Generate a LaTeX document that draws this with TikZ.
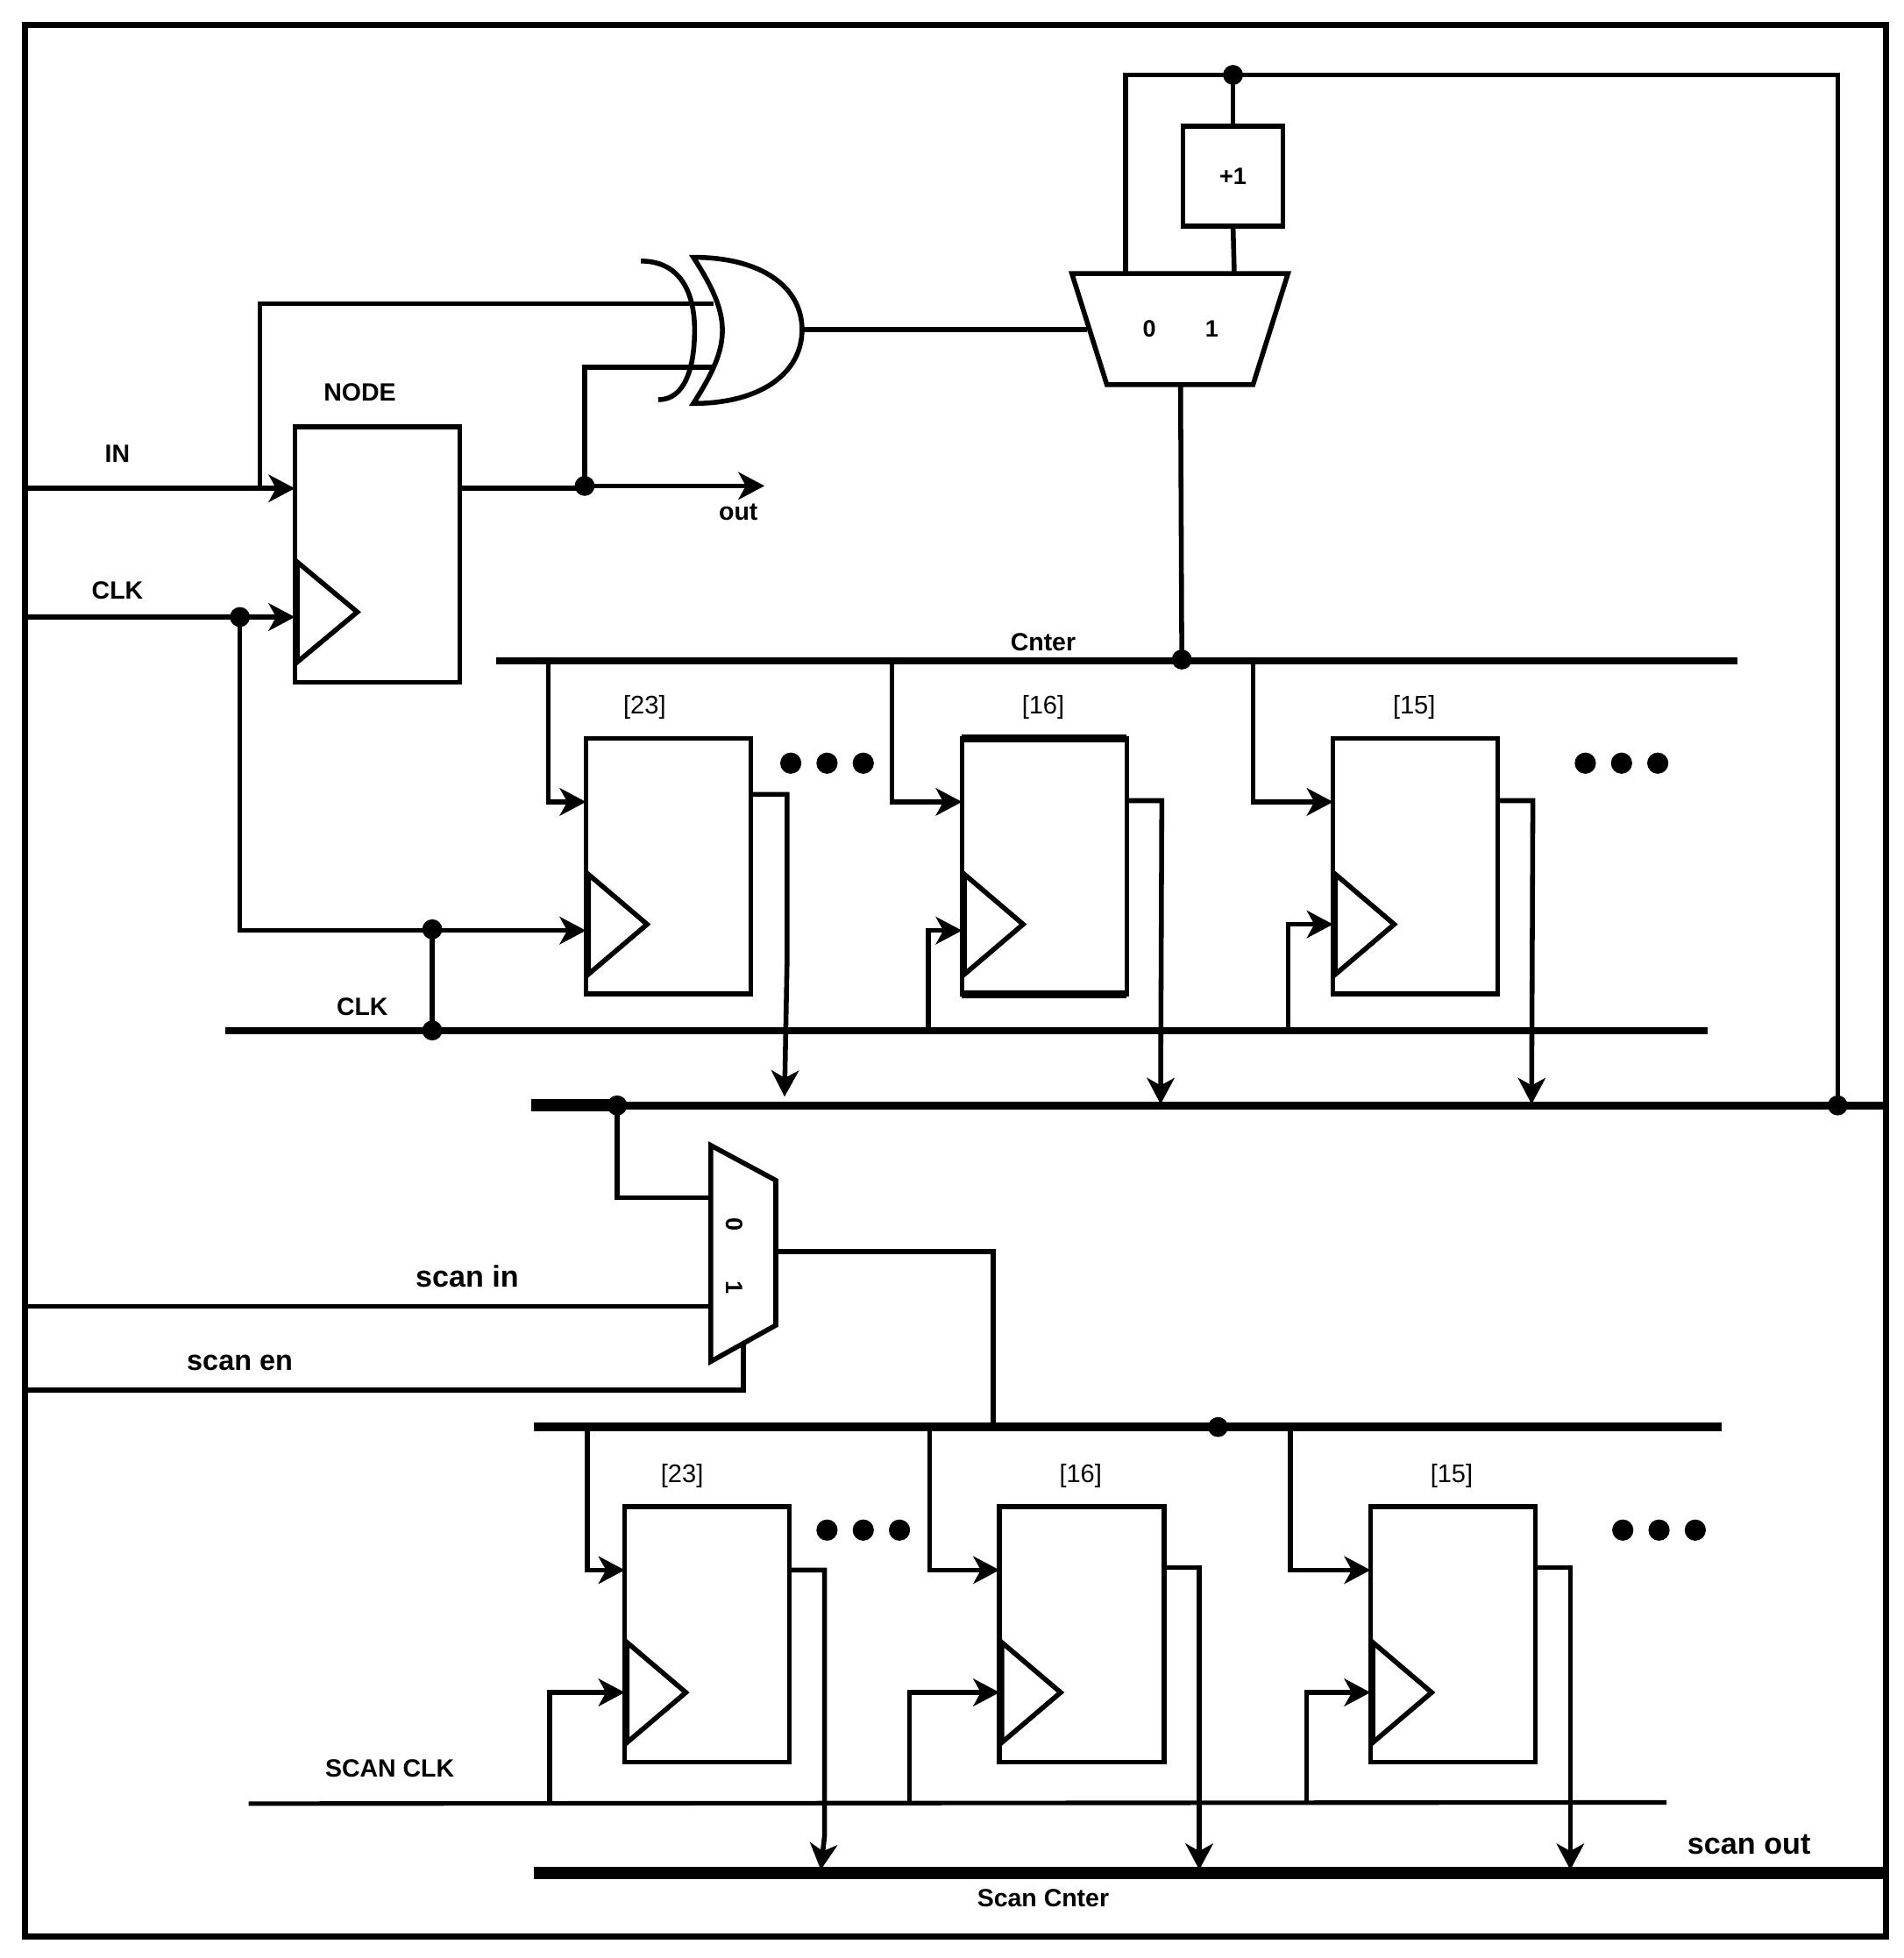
\documentclass[tikz,border=0pt]{standalone}
\usepackage{fontspec}
\setmainfont{Liberation Sans}
\usetikzlibrary{arrows.meta}
\tikzset{
  wire/.style={line width=1.95pt,line join=miter},
  arrowwire/.style={wire,-{Stealth[length=10.5pt,width=11pt,inset=3pt]}},
  bus/.style={line width=2.9pt},
  fatbus/.style={line width=4.7pt},
  thinbus/.style={line width=1.8pt},
  ffbox/.style={draw,line width=1.95pt,rectangle,minimum width=66pt,minimum height=102.5pt,inner sep=0,outer sep=0},
  incbox/.style={draw,line width=1.95pt,rectangle,minimum width=40pt,minimum height=40pt,inner sep=0,outer sep=0,font=\bfseries\fontsize{9.5}{9.5}\selectfont},
  jdot/.style={circle,fill=black,inner sep=0,outer sep=0,minimum size=8pt},
  bigdot/.style={circle,fill=black,inner sep=0,outer sep=0,minimum size=8.5pt},
  lab/.style={inner sep=0,font=\bfseries\fontsize{10}{10}\selectfont},
  idx/.style={inner sep=0,font=\fontsize{10.2}{10.2}\selectfont},
  biglab/.style={inner sep=0,font=\bfseries\fontsize{12}{12}\selectfont},
  midlab/.style={inner sep=0,font=\bfseries\fontsize{11.4}{11.4}\selectfont},
  muxlab/.style={inner sep=0,font=\bfseries\fontsize{9.5}{9.5}\selectfont}
}
% name, left x, top y, label x offset, label
\newcommand{\ffcell}[5]{%
  \node[ffbox] (#1) at ({#2+66},{#3+102.5}) {};
  \draw[wire] ({#2+2},{#3+109}) -- ({#2+49},{#3+149}) -- ({#2+2},{#3+189}) -- cycle;
  \node[idx] (#1lab) at ({#2+#4},{#3-24.5}) {#5};
}
\begin{document}
\begin{tikzpicture}[x=0.5005pt,y=-0.5005pt]
\useasboundingbox (0,0) rectangle (1523.5,1567.6);
\node[draw,line width=2.6pt,rectangle,minimum width=745.5pt,minimum height=766pt,inner sep=0,outer sep=0] (frame) at (764.8,785.3) {};

% labels
\node[lab] (tIN) at (94,363) {IN};
\node[lab] (tCLK) at (94,473) {CLK};
\node[lab] (tNODE) at (288,314) {NODE};
\node[lab] (tout) at (591,410) {out};
\node[lab] (tCnter) at (835,514) {Cnter};
\node[lab] (tCLKb) at (290,806) {CLK};
\node[biglab] (tscanin) at (374,1022) {scan in};
\node[midlab] (tscanen) at (192,1091) {scan en};
\node[lab] (tscanclk) at (312,1416) {SCAN CLK};
\node[biglab] (tscanout) at (1400,1477) {scan out};
\node[lab] (tscancnter) at (835,1520) {Scan Cnter};

% NODE flip-flop
\node[ffbox] (node) at (302,444) {};
\draw[wire] (238,450) -- (286,490) -- (238,530) -- cycle;
% buses
\coordinate (cntL) at (397,529); \coordinate (cntR) at (1391,529);
\coordinate (clkL) at (180,825); \coordinate (clkR) at (1367,825);
\coordinate (midL) at (425,885); \coordinate (midM) at (490,885); \coordinate (midR) at (1509,885);
\coordinate (scbL) at (427,1142.5); \coordinate (scbR) at (1378,1142.5);
\coordinate (sclkL) at (199,1444); \coordinate (sclkR) at (1334,1443);
\coordinate (socL) at (427,1499.5); \coordinate (socR) at (1509,1499.5);
\draw[bus] (cntL) -- (cntR);
\draw[bus] (clkL) -- (clkR);
\draw[line width=3.2pt] (midL) -- (midR);
\draw[line width=5pt] (midL) -- (midM);
\draw[line width=3.6pt] (scbL) -- (scbR);
\draw[thinbus] (sclkL) -- (sclkR);
\draw[fatbus] (socL) -- (socR);

% flip-flops
\ffcell{fa}{469}{591}{47}{[23]}
\ffcell{fb}{770}{591}{65}{[16]}
\ffcell{fc}{1067}{591}{65}{[15]}
\ffcell{ga}{500}{1206}{46}{[23]}
\ffcell{gb}{800}{1206}{65}{[16]}
\ffcell{gc}{1097}{1206}{65}{[15]}
\draw[line width=3pt] (fb.north west) -- (fb.north east);
\draw[line width=3pt] (fb.south west) -- (fb.south east);

% ellipsis dots
\foreach \n/\x/\y in {a/633/611,b/662/611,c/691/611,d/1269/611,e/1298/611,f/1327/611,g/662/1225,h/691/1225,i/720/1225,j/1299/1225,k/1328/1225,l/1357/1225}
  \node[bigdot] (e\n) at (\x,\y) {};

% XOR gate
\node[inner sep=0,minimum size=0] (xorout) at (642,264) {};
\draw[wire,line join=miter] (555,206) .. controls (586,254) and (586,275) .. (555,323)
  .. controls (610,323) and (642,298) .. (xorout.center)
  .. controls (642,230) and (610,206) .. cycle;
\draw[wire] (513,209) .. controls (545,209) and (556,235) .. (556,264) .. controls (556,295) and (548,320) .. (527,320);

% muxes
\draw[wire] (858,219) -- (1031,219) -- (1003,308) -- (886,308) -- cycle;
\node[muxlab] (m0) at (920,263) {0};
\node[muxlab] (m1) at (970,263) {1};
\draw[wire] (569,917) -- (621,945) -- (621,1061) -- (569,1090) -- cycle;
\node[muxlab,rotate=-90] (n0) at (588,980.5) {0};
\node[muxlab,rotate=-90] (n1) at (588,1030.5) {1};
\node[incbox] (inc) at (987,141) {+1};

% junction dots
\node[jdot] (jclk) at (192,494) {};
\node[jdot] (jq) at (468,389) {};
\node[jdot] (jcnt) at (946,528) {};
\node[jdot] (jtop) at (987,60) {};
\node[jdot] (jcj) at (346,744) {};
\node[jdot] (jcb) at (346,825) {};
\node[jdot] (jmidl) at (494,885) {};
\node[jdot] (jmidr) at (1471,885) {};
\node[jdot] (jscb) at (975,1142.5) {};

% named ends
\coordinate (inL) at (22,391); \coordinate (inD) at (236,391); \coordinate (inB) at (208,391);
\coordinate (clkinL) at (22,494); \coordinate (clkD) at (236,494);
\coordinate (qO) at (368,391);
\coordinate (xa) at (571,243); \coordinate (xb) at (571,294);
\coordinate (outEnd) at (612,389);
\coordinate (mxaL) at (870,264); \coordinate (mxaT0) at (901,219); \coordinate (mxaT1) at (988,219);
\coordinate (mxaB) at (945,308);
\coordinate (fck) at (469,745);
\draw[arrowwire] (inL) -- (inD);
\draw[wire] (inB) -- (208,243) -- (xa);
\draw[wire] (qO) -- (468,391);
\draw[arrowwire] (jq.center) -- (outEnd);
\draw[wire] (jq.center) |- (xb);
\draw[arrowwire] (clkinL) -- (clkD);
\draw[arrowwire] (jclk.center) |- (fck);
\draw[wire] (jcj.center) -- (jcb.center);
\draw[wire] (xorout.center) -- (mxaL);
\draw[wire] (mxaB) -- (jcnt.center);
\draw[wire] (mxaT0) |- (jtop.center);
\draw[wire] (jtop.center) -- (inc.north);
\draw[wire] (inc.south) -- (mxaT1);
\draw[wire] (jtop.center) -| (jmidr.center);

% upper row connectors
\coordinate (t1) at (439,529); \coordinate (t2) at (714,529); \coordinate (t3) at (1003,529);
\draw[arrowwire] (t1) |- (fa.west |- 0,642);
\draw[arrowwire] (t2) |- (fb.west |- 0,642);
\draw[arrowwire] (t3) |- (fc.west |- 0,642);
\coordinate (k2) at (743,825); \coordinate (k3) at (1031,825);
\draw[arrowwire] (k2) |- (fb.west |- 0,745);
\draw[arrowwire] (k3) |- (fc.west |- 0,740);
\draw[arrowwire] (fa.east |- 0,636) -- (630,636) -- (630,770) -- (628,878);
\draw[arrowwire] (fb.east |- 0,641) -- (930,641) -- (929,884);
\draw[arrowwire] (fc.east |- 0,641) -- (1227,641) -- (1226,884);

% scan mux connectors
\draw[wire] (jmidl.center) |- (569,959);
\draw[wire] (22,1046) -- (569,1046);
\draw[wire] (22,1113) -- (595,1113) -- (595,1076);
\draw[wire] (621,1002) -| (795,1142);

% lower row connectors
\coordinate (u1) at (470,1142); \coordinate (u2) at (744,1142); \coordinate (u3) at (1033,1142);
\draw[arrowwire] (u1) |- (ga.west |- 0,1257);
\draw[arrowwire] (u2) |- (gb.west |- 0,1257);
\draw[arrowwire] (u3) |- (gc.west |- 0,1257);
\coordinate (v1) at (440,1444); \coordinate (v2) at (728,1444); \coordinate (v3) at (1046,1444);
\draw[arrowwire] (v1) |- (ga.west |- 0,1355);
\draw[arrowwire] (v2) |- (gb.west |- 0,1355);
\draw[arrowwire] (v3) |- (gc.west |- 0,1355);
\draw[arrowwire] (ga.east |- 0,1257) -- (660,1257) -- (660,1470) -- (657,1497);
\draw[arrowwire] (gb.east |- 0,1255) -- (960,1255) -- (960,1497);
\draw[arrowwire] (gc.east |- 0,1255) -- (1257,1255) -- (1257,1497);
\end{tikzpicture}
\end{document}
